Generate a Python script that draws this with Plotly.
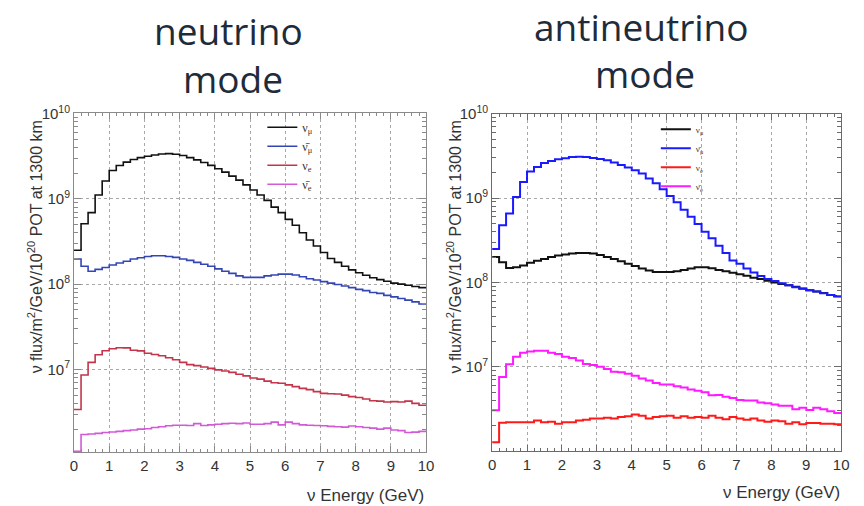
import plotly.graph_objects as go

# ---------------- data ----------------
bin_edges = [0.0, 0.2, 0.4, 0.6, 0.8, 1.0, 1.2, 1.4, 1.6, 1.8,
             2.0, 2.2, 2.4, 2.6, 2.8, 3.0, 3.2, 3.4, 3.6, 3.8,
             4.0, 4.2, 4.4, 4.6, 4.8, 5.0, 5.2, 5.4, 5.6, 5.8,
             6.0, 6.2, 6.4, 6.6, 6.8, 7.0, 7.2, 7.4, 7.6, 7.8,
             8.0, 8.2, 8.4, 8.6, 8.8, 9.0, 9.2, 9.4, 9.6, 9.8, 10.0]

# neutrino mode (FHC)
fhc_numu = [2.5e8, 5.1e8, 6.9e8, 1.11e9, 1.62e9, 2.15e9, 2.46e9, 2.7e9, 2.9e9, 3.05e9,
            3.16e9, 3.27e9, 3.36e9, 3.39e9, 3.33e9, 3.22e9, 3.05e9, 2.87e9, 2.67e9, 2.47e9,
            2.26e9, 2.06e9, 1.85e9, 1.66e9, 1.46e9, 1.27e9, 1.11e9, 9.6e8, 8.0e8, 6.9e8,
            5.75e8, 4.9e8, 4.0e8, 3.3e8, 2.8e8, 2.35e8, 2.0e8, 1.8e8, 1.62e8, 1.47e8,
            1.36e8, 1.27e8, 1.19e8, 1.13e8, 1.08e8, 1.03e8, 1.0e8, 9.7e7, 9.4e7, 9.1e7]
fhc_numubar = [1.97e8, 1.62e8, 1.42e8, 1.49e8, 1.57e8, 1.68e8, 1.77e8, 1.86e8, 1.97e8, 2.04e8,
               2.11e8, 2.15e8, 2.15e8, 2.11e8, 2.06e8, 1.97e8, 1.9e8, 1.8e8, 1.71e8, 1.62e8,
               1.51e8, 1.42e8, 1.34e8, 1.25e8, 1.2e8, 1.2e8, 1.2e8, 1.25e8, 1.28e8, 1.31e8,
               1.31e8, 1.28e8, 1.22e8, 1.16e8, 1.12e8, 1.07e8, 1.03e8, 9.9e7, 9.5e7, 9.1e7,
               8.7e7, 8.4e7, 8.0e7, 7.8e7, 7.4e7, 7.1e7, 6.8e7, 6.5e7, 6.2e7, 5.85e7]
fhc_nue = [3.4e6, 8.6e6, 1.21e7, 1.49e7, 1.66e7, 1.75e7, 1.8e7, 1.79e7, 1.68e7, 1.65e7,
           1.55e7, 1.5e7, 1.45e7, 1.37e7, 1.3e7, 1.21e7, 1.14e7, 1.11e7, 1.07e7, 1.03e7,
           9.9e6, 9.6e6, 9.25e6, 8.8e6, 8.4e6, 7.95e6, 7.7e6, 7.3e6, 7.0e6, 6.9e6,
           6.6e6, 6.3e6, 6.0e6, 5.8e6, 5.5e6, 5.25e6, 5.2e6, 5.15e6, 5.0e6, 4.8e6,
           4.7e6, 4.5e6, 4.3e6, 4.25e6, 4.15e6, 4.2e6, 4.15e6, 4.25e6, 4.0e6, 3.8e6]
fhc_nuebar = [1.1e6, 1.73e6, 1.75e6, 1.78e6, 1.82e6, 1.85e6, 1.88e6, 1.92e6, 1.95e6, 2.0e6,
              2.02e6, 2.09e6, 2.13e6, 2.19e6, 2.22e6, 2.22e6, 2.2e6, 2.32e6, 2.2e6, 2.24e6,
              2.28e6, 2.32e6, 2.34e6, 2.32e6, 2.36e6, 2.28e6, 2.28e6, 2.32e6, 2.41e6, 2.24e6,
              2.41e6, 2.32e6, 2.24e6, 2.22e6, 2.2e6, 2.19e6, 2.15e6, 2.13e6, 2.11e6, 2.17e6,
              2.13e6, 2.09e6, 2.05e6, 2.0e6, 2.05e6, 1.95e6, 1.92e6, 1.82e6, 1.84e6, 1.88e6]

# antineutrino mode (RHC)
rhc_numu = [2.0e8, 1.74e8, 1.48e8, 1.52e8, 1.59e8, 1.71e8, 1.81e8, 1.9e8, 2.0e8, 2.09e8,
            2.14e8, 2.2e8, 2.24e8, 2.24e8, 2.2e8, 2.12e8, 2.0e8, 1.9e8, 1.79e8, 1.67e8,
            1.57e8, 1.46e8, 1.39e8, 1.33e8, 1.33e8, 1.33e8, 1.36e8, 1.41e8, 1.46e8, 1.51e8,
            1.51e8, 1.47e8, 1.41e8, 1.36e8, 1.3e8, 1.25e8, 1.2e8, 1.14e8, 1.1e8, 1.05e8,
            1.0e8, 9.6e7, 9.3e7, 8.9e7, 8.5e7, 8.1e7, 7.8e7, 7.5e7, 7.1e7, 6.8e7]
rhc_numubar = [2.5e8, 4.75e8, 6.56e8, 1.03e9, 1.55e9, 2.07e9, 2.34e9, 2.61e9, 2.75e9, 2.88e9,
               2.96e9, 3.06e9, 3.09e9, 3.06e9, 2.98e9, 2.9e9, 2.8e9, 2.65e9, 2.47e9, 2.3e9,
               2.14e9, 1.96e9, 1.71e9, 1.5e9, 1.27e9, 1.06e9, 8.9e8, 7.3e8, 6.0e8, 4.93e8,
               4.0e8, 3.35e8, 2.73e8, 2.24e8, 1.82e8, 1.67e8, 1.46e8, 1.31e8, 1.19e8, 1.1e8,
               1.04e8, 9.8e7, 9.3e7, 8.8e7, 8.4e7, 8.1e7, 7.8e7, 7.45e7, 7.1e7, 6.9e7]
rhc_nue = [1.28e6, 2.18e6, 2.2e6, 2.2e6, 2.2e6, 2.2e6, 2.32e6, 2.2e6, 2.23e6, 2.12e6,
           2.2e6, 2.2e6, 2.32e6, 2.36e6, 2.45e6, 2.45e6, 2.5e6, 2.45e6, 2.54e6, 2.59e6,
           2.73e6, 2.63e6, 2.45e6, 2.54e6, 2.59e6, 2.63e6, 2.5e6, 2.59e6, 2.5e6, 2.54e6,
           2.5e6, 2.63e6, 2.5e6, 2.4e6, 2.54e6, 2.45e6, 2.36e6, 2.45e6, 2.32e6, 2.23e6,
           2.32e6, 2.27e6, 2.12e6, 2.2e6, 2.09e6, 2.16e6, 2.16e6, 2.12e6, 2.12e6, 2.09e6]
rhc_nuebar = [3.06e6, 7.6e6, 1.07e7, 1.32e7, 1.47e7, 1.52e7, 1.55e7, 1.55e7, 1.47e7, 1.42e7,
              1.32e7, 1.27e7, 1.19e7, 1.08e7, 1.05e7, 1.0e7, 9.4e6, 8.75e6, 8.6e6, 8.3e6,
              7.85e6, 7.3e6, 6.9e6, 6.45e6, 6.17e6, 6.17e6, 5.9e6, 5.7e6, 5.4e6, 5.2e6,
              5.0e6, 4.6e6, 4.65e6, 4.43e6, 4.27e6, 4.05e6, 3.98e6, 3.98e6, 3.77e6, 3.7e6,
              3.57e6, 3.45e6, 3.45e6, 3.15e6, 3.27e6, 3.09e6, 3.27e6, 3.15e6, 2.98e6, 2.83e6]

legend_names = ["ν<sub>μ</sub>", "ν̄<sub>μ</sub>", "ν<sub>e</sub>", "ν̄<sub>e</sub>"]
x_ticks = [0, 1, 2, 3, 4, 5, 6, 7, 8, 9, 10]
y_tickvals = [1e7, 1e8, 1e9, 1e10]
y_ticktext = ["10<sup>7</sup>", "10<sup>8</sup>", "10<sup>9</sup>", "10<sup>10</sup>"]
panel_titles = [("neutrino", "mode"), ("antineutrino", "mode")]
y_title = "ν flux/m<sup>2</sup>/GeV/10<sup>20</sup> POT at 1300 km"
x_title = "ν Energy (GeV)"

# ---------------- figure ----------------
W, H = 864, 506
fig = go.Figure()

left_colors = ["#111111", "#3446b4", "#c2354a", "#d25ad6"]
right_colors = ["#111111", "#1a1aff", "#ff1a1a", "#ff1aff"]

def add_panel(series, colors, xa, ya, legend, width):
    for name, vals, col in zip(legend_names, series, colors):
        fig.add_trace(go.Scatter(
            x=bin_edges, y=vals + [vals[-1]], mode="lines", line_shape="hv",
            line=dict(color=col, width=width), name=name,
            xaxis=xa, yaxis=ya, legend=legend, hoverinfo="skip"))

add_panel([fhc_numu, fhc_numubar, fhc_nue, fhc_nuebar], left_colors, "x", "y", "legend", 1.6)
add_panel([rhc_numu, rhc_numubar, rhc_nue, rhc_nuebar], right_colors, "x2", "y2", "legend2", 2.0)

def px_x(p):
    return p / W

def px_y(p):
    return 1 - p / H

tickfont = dict(family="Liberation Sans, Arial, sans-serif", size=15, color="#333333")

def xaxis(domain, anchor, frame):
    return dict(domain=domain, anchor=anchor, range=[0, 10], tickmode="array",
                tickvals=x_ticks, ticktext=[str(t) for t in x_ticks],
                ticks="inside", ticklen=6, tickcolor=frame, showline=True, linecolor=frame,
                linewidth=1, mirror="ticks", showgrid=True, gridcolor="#a8a8a8",
                griddash="dot", gridwidth=1, zeroline=False, tickfont=tickfont,
                minor=dict(ticks="inside", ticklen=3, dtick=0.2, tickcolor=frame, showgrid=False))

def yaxis(domain, anchor, frame, rng):
    return dict(domain=domain, anchor=anchor, type="log", range=rng, tickmode="array",
                tickvals=y_tickvals, ticktext=y_ticktext,
                ticks="inside", ticklen=7, tickcolor=frame, showline=True, linecolor=frame,
                linewidth=1, mirror="ticks", showgrid=True, gridcolor="#a8a8a8",
                griddash="dot", gridwidth=1, zeroline=False, tickfont=tickfont,
                minor=dict(ticks="inside", ticklen=4, dtick="D1", tickcolor=frame, showgrid=False))

fig.update_layout(
    width=W, height=H, margin=dict(l=0, r=0, t=0, b=0),
    paper_bgcolor="white", plot_bgcolor="white", showlegend=True,
    xaxis=xaxis([px_x(71), px_x(428)], "y", "#8a8a8a"),
    yaxis=yaxis([px_y(451), px_y(104)], "x", "#8a8a8a", [6.03, 10.01]),
    xaxis2=xaxis([px_x(495), px_x(849)], "y2", "#6a6a6a"),
    yaxis2=yaxis([px_y(450), px_y(105)], "x2", "#6a6a6a", [6.0, 10.0]),
    legend=dict(x=px_x(262), y=px_y(104), xanchor="left", yanchor="top",
                bgcolor="rgba(0,0,0,0)", font=dict(family="Liberation Serif, serif", size=12, color="#333333"),
                itemwidth=30, tracegroupgap=0),
    legend2=dict(x=px_x(661), y=px_y(106), xanchor="left", yanchor="top",
                 bgcolor="rgba(0,0,0,0)", font=dict(family="Liberation Serif, serif", size=9, color="#333333"),
                 itemwidth=30, tracegroupgap=0),
)

title_font = dict(family="Open Sans, sans-serif", size=37, color="#1e2b3a")
anns = [
    (228, 20, panel_titles[0][0]), (232, 69, panel_titles[0][1]),
    (646, 16, panel_titles[1][0]), (650, 64, panel_titles[1][1]),
]
for cx, cy, txt in anns:
    fig.add_annotation(x=px_x(cx), y=px_y(cy), xref="paper", yref="paper", text=txt,
                       showarrow=False, xanchor="center", yanchor="middle", font=title_font)

lab_font = dict(family="Liberation Sans, Arial, sans-serif", size=16, color="#333333")
for cx, cy in [(31, 241), (456, 241)]:
    fig.add_annotation(x=px_x(cx), y=px_y(cy), xref="paper", yref="paper", text=y_title,
                       textangle=-90, showarrow=False, xanchor="center", yanchor="middle", font=lab_font)
for rx, cy in [(428, 495), (850, 492)]:
    fig.add_annotation(x=px_x(rx), y=px_y(cy), xref="paper", yref="paper", text=x_title,
                       showarrow=False, xanchor="right", yanchor="middle", font=dict(lab_font, size=17))

fig.write_html("out.html", config={"displayModeBar": False},
               post_script="document.body.style.margin='0';document.body.style.overflow='hidden';")
